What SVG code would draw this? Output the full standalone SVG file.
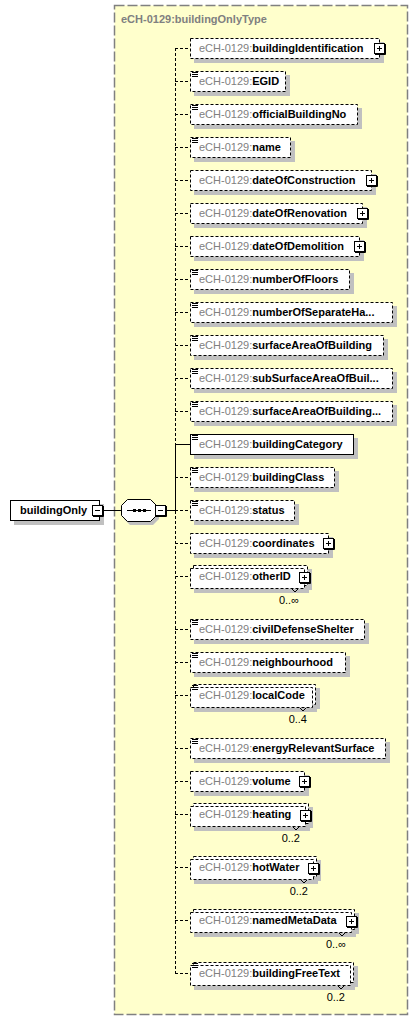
<svg xmlns="http://www.w3.org/2000/svg" width="420" height="1021" viewBox="0 0 420 1021">
<style>
text{font-family:"Liberation Sans",Arial,sans-serif;font-size:11px}
.pre{fill:#808080}
.nm{fill:#000;font-weight:bold}
.title{fill:#808080;font-weight:bold}
.sh{fill:#c0c0c0}
.opt{fill:#fff;stroke:#000;stroke-width:1;stroke-dasharray:3,2}
.req{fill:#fff;stroke:#000;stroke-width:1}
.dl{fill:none;stroke:#000;stroke-width:1;stroke-dasharray:3,2}
.sl{fill:none;stroke:#000;stroke-width:1}
.tk{fill:none;stroke:#000;stroke-width:1}
</style>
<defs>
<symbol id="plus" width="12" height="12" viewBox="0 0 12 12" overflow="visible">
<rect x="0.5" y="0.5" width="10" height="10" fill="#fff" stroke="#000"/>
<path d="M11.5 1V11.5H1" fill="none" stroke="#000"/>
<path d="M3 5.5H8M5.5 3V8" stroke="#000"/>
</symbol>
<symbol id="minus" width="12" height="12" viewBox="0 0 12 12" overflow="visible">
<rect x="0.5" y="0.5" width="10" height="10" fill="#fff" stroke="#000"/>
<path d="M11.5 1V11.5H1" fill="none" stroke="#000"/>
<path d="M3 5.5H8" stroke="#000"/>
</symbol>
<symbol id="doc" width="10" height="8" viewBox="0 0 10 8" overflow="visible">
<path d="M2 1.5h6M2 3.5h6M2 5.5h6" stroke="#000"/>
</symbol>
</defs>

<g id="container">
<rect x="114.5" y="5.5" width="293" height="1009" fill="#ffffcc" stroke="#808080" stroke-width="1.5" stroke-dasharray="10,3"/>
<text class="title" x="121" y="23">eCH-0129:buildingOnlyType</text>
</g>

<g id="connectors">
<path class="sl" d="M103 510.5H121.5M166 510.5H175.5M175.5 444V510.5M175 444.5H190"/>
<path class="dl" d="M175.5 48V444M175.5 511V973.5"/>
<path class="dl" d="M175 48.5H190M175 81.5H190M175 114.5H190M175 147.5H190M175 180.5H190M175 213.5H190M175 246.5H190M175 279.5H190M175 312.5H190M175 345.5H190M175 378.5H190M175 411.5H190M175 477.5H190M175 510.5H190M175 543.5H190M175 576.5H190M175 629.5H190M175 662.5H190M175 695.5H190M175 748.5H190M175 781.5H190M175 814.5H190M175 867.5H190M175 920.5H190M175 973.5H190"/>
</g>

<g id="buildingOnly">
<rect class="sh" x="14" y="504" width="90" height="21"/>
<rect class="req" x="10.5" y="500.5" width="89" height="20"/>
<text x="20" y="514"><tspan class="nm">buildingOnly</tspan></text>
<use href="#minus" x="92" y="505"/>
</g>

<g id="sequence">
<polygon class="sh" points="130,503 153,503 159,509 159,519 153,525 130,525 124,519 124,509"/>
<polygon class="req" points="127.5,499.5 150.5,499.5 156.5,505.5 156.5,515.5 150.5,521.5 127.5,521.5 121.5,515.5 121.5,505.5"/>
<path d="M127 510.5H151" stroke="#000"/>
<rect x="133" y="509" width="3" height="3"/>
<rect x="138" y="509" width="3" height="3"/>
<rect x="143" y="509" width="3" height="3"/>
<use href="#minus" x="155" y="505"/>
</g>

<g id="buildingIdentification">
<rect class="sh" x="194" y="42" width="190" height="21"/>
<rect class="opt" x="190.5" y="38.5" width="189" height="20"/>
<text x="199" y="52"><tspan class="pre">eCH-0129:</tspan><tspan class="nm">buildingIdentification</tspan></text>
<use href="#plus" x="374" y="43"/>
</g>

<g id="EGID">
<rect class="sh" x="194" y="75" width="96" height="21"/>
<rect class="opt" x="190.5" y="71.5" width="95" height="20"/>
<use href="#doc" x="190" y="71"/>
<text x="199" y="85"><tspan class="pre">eCH-0129:</tspan><tspan class="nm">EGID</tspan></text>
</g>

<g id="officialBuildingNo">
<rect class="sh" x="194" y="108" width="168" height="21"/>
<rect class="opt" x="190.5" y="104.5" width="167" height="20"/>
<use href="#doc" x="190" y="104"/>
<text x="199" y="118"><tspan class="pre">eCH-0129:</tspan><tspan class="nm">officialBuildingNo</tspan></text>
</g>

<g id="name">
<rect class="sh" x="194" y="141" width="101" height="21"/>
<rect class="opt" x="190.5" y="137.5" width="100" height="20"/>
<use href="#doc" x="190" y="137"/>
<text x="199" y="151"><tspan class="pre">eCH-0129:</tspan><tspan class="nm">name</tspan></text>
</g>

<g id="dateOfConstruction">
<rect class="sh" x="194" y="174" width="182" height="21"/>
<rect class="opt" x="190.5" y="170.5" width="181" height="20"/>
<text x="199" y="184"><tspan class="pre">eCH-0129:</tspan><tspan class="nm">dateOfConstruction</tspan></text>
<use href="#plus" x="366" y="175"/>
</g>

<g id="dateOfRenovation">
<rect class="sh" x="194" y="207" width="173" height="21"/>
<rect class="opt" x="190.5" y="203.5" width="172" height="20"/>
<text x="199" y="217"><tspan class="pre">eCH-0129:</tspan><tspan class="nm">dateOfRenovation</tspan></text>
<use href="#plus" x="357" y="208"/>
</g>

<g id="dateOfDemolition">
<rect class="sh" x="194" y="240" width="170" height="21"/>
<rect class="opt" x="190.5" y="236.5" width="169" height="20"/>
<text x="199" y="250"><tspan class="pre">eCH-0129:</tspan><tspan class="nm">dateOfDemolition</tspan></text>
<use href="#plus" x="354" y="241"/>
</g>

<g id="numberOfFloors">
<rect class="sh" x="194" y="273" width="160" height="21"/>
<rect class="opt" x="190.5" y="269.5" width="159" height="20"/>
<use href="#doc" x="190" y="269"/>
<text x="199" y="283"><tspan class="pre">eCH-0129:</tspan><tspan class="nm">numberOfFloors</tspan></text>
</g>

<g id="numberOfSeparateHabitableRooms">
<rect class="sh" x="194" y="306" width="203" height="21"/>
<rect class="opt" x="190.5" y="302.5" width="202" height="20"/>
<use href="#doc" x="190" y="302"/>
<text x="199" y="316"><tspan class="pre">eCH-0129:</tspan><tspan class="nm">numberOfSeparateHa...</tspan></text>
</g>

<g id="surfaceAreaOfBuilding">
<rect class="sh" x="194" y="339" width="194" height="21"/>
<rect class="opt" x="190.5" y="335.5" width="193" height="20"/>
<use href="#doc" x="190" y="335"/>
<text x="199" y="349"><tspan class="pre">eCH-0129:</tspan><tspan class="nm">surfaceAreaOfBuilding</tspan></text>
</g>

<g id="subSurfaceAreaOfBuilding">
<rect class="sh" x="194" y="372" width="203" height="21"/>
<rect class="opt" x="190.5" y="368.5" width="202" height="20"/>
<use href="#doc" x="190" y="368"/>
<text x="199" y="382"><tspan class="pre">eCH-0129:</tspan><tspan class="nm">subSurfaceAreaOfBuil...</tspan></text>
</g>

<g id="surfaceAreaOfBuildingSignaturePlan">
<rect class="sh" x="194" y="405" width="203" height="21"/>
<rect class="opt" x="190.5" y="401.5" width="202" height="20"/>
<use href="#doc" x="190" y="401"/>
<text x="199" y="415"><tspan class="pre">eCH-0129:</tspan><tspan class="nm">surfaceAreaOfBuilding...</tspan></text>
</g>

<g id="buildingCategory">
<rect class="sh" x="194" y="438" width="164" height="21"/>
<rect class="req" x="190.5" y="434.5" width="163" height="20"/>
<use href="#doc" x="190" y="434"/>
<text x="199" y="448"><tspan class="pre">eCH-0129:</tspan><tspan class="nm">buildingCategory</tspan></text>
</g>

<g id="buildingClass">
<rect class="sh" x="194" y="471" width="145" height="21"/>
<rect class="opt" x="190.5" y="467.5" width="144" height="20"/>
<use href="#doc" x="190" y="467"/>
<text x="199" y="481"><tspan class="pre">eCH-0129:</tspan><tspan class="nm">buildingClass</tspan></text>
</g>

<g id="status">
<rect class="sh" x="194" y="504" width="105" height="21"/>
<rect class="opt" x="190.5" y="500.5" width="104" height="20"/>
<use href="#doc" x="190" y="500"/>
<text x="199" y="514"><tspan class="pre">eCH-0129:</tspan><tspan class="nm">status</tspan></text>
</g>

<g id="coordinates">
<rect class="sh" x="194" y="537" width="139" height="21"/>
<rect class="opt" x="190.5" y="533.5" width="138" height="20"/>
<text x="199" y="547"><tspan class="pre">eCH-0129:</tspan><tspan class="nm">coordinates</tspan></text>
<use href="#plus" x="323" y="538"/>
</g>

<g id="otherID">
<rect class="sh" x="197" y="569" width="115" height="21"/>
<rect class="sh" x="194" y="572" width="115" height="21"/>
<rect class="opt" x="193.5" y="565.5" width="114" height="20"/>
<rect class="opt" x="190.5" y="568.5" width="114" height="20"/>
<text x="199" y="580"><tspan class="pre">eCH-0129:</tspan><tspan class="nm">otherID</tspan></text>
<use href="#plus" x="299" y="572"/>
<polyline class="tk" points="292,589 295,592 298,589"/>
<text x="299" y="604" text-anchor="end">0..∞</text>
</g>

<g id="civilDefenseShelter">
<rect class="sh" x="194" y="623" width="175" height="21"/>
<rect class="opt" x="190.5" y="619.5" width="174" height="20"/>
<use href="#doc" x="190" y="619"/>
<text x="199" y="633"><tspan class="pre">eCH-0129:</tspan><tspan class="nm">civilDefenseShelter</tspan></text>
</g>

<g id="neighbourhood">
<rect class="sh" x="194" y="656" width="156" height="21"/>
<rect class="opt" x="190.5" y="652.5" width="155" height="20"/>
<use href="#doc" x="190" y="652"/>
<text x="199" y="666"><tspan class="pre">eCH-0129:</tspan><tspan class="nm">neighbourhood</tspan></text>
</g>

<g id="localCode">
<rect class="sh" x="197" y="688" width="123" height="21"/>
<rect class="sh" x="194" y="691" width="123" height="21"/>
<rect class="opt" x="193.5" y="684.5" width="122" height="20"/>
<rect class="opt" x="190.5" y="687.5" width="122" height="20"/>
<use href="#doc" x="190" y="684"/>
<text x="199" y="699"><tspan class="pre">eCH-0129:</tspan><tspan class="nm">localCode</tspan></text>
<polyline class="tk" points="300,708 303,711 306,708"/>
<text x="307" y="723" text-anchor="end">0..4</text>
</g>

<g id="energyRelevantSurface">
<rect class="sh" x="194" y="742" width="196" height="21"/>
<rect class="opt" x="190.5" y="738.5" width="195" height="20"/>
<use href="#doc" x="190" y="738"/>
<text x="199" y="752"><tspan class="pre">eCH-0129:</tspan><tspan class="nm">energyRelevantSurface</tspan></text>
</g>

<g id="volume">
<rect class="sh" x="194" y="775" width="115" height="21"/>
<rect class="opt" x="190.5" y="771.5" width="114" height="20"/>
<text x="199" y="785"><tspan class="pre">eCH-0129:</tspan><tspan class="nm">volume</tspan></text>
<use href="#plus" x="299" y="776"/>
</g>

<g id="heating">
<rect class="sh" x="197" y="807" width="116" height="21"/>
<rect class="sh" x="194" y="810" width="116" height="21"/>
<rect class="opt" x="193.5" y="803.5" width="115" height="20"/>
<rect class="opt" x="190.5" y="806.5" width="115" height="20"/>
<text x="199" y="818"><tspan class="pre">eCH-0129:</tspan><tspan class="nm">heating</tspan></text>
<use href="#plus" x="300" y="810"/>
<polyline class="tk" points="293,827 296,830 299,827"/>
<text x="300" y="842" text-anchor="end">0..2</text>
</g>

<g id="hotWater">
<rect class="sh" x="197" y="860" width="124" height="21"/>
<rect class="sh" x="194" y="863" width="124" height="21"/>
<rect class="opt" x="193.5" y="856.5" width="123" height="20"/>
<rect class="opt" x="190.5" y="859.5" width="123" height="20"/>
<text x="199" y="871"><tspan class="pre">eCH-0129:</tspan><tspan class="nm">hotWater</tspan></text>
<use href="#plus" x="308" y="863"/>
<polyline class="tk" points="301,880 304,883 307,880"/>
<text x="308" y="895" text-anchor="end">0..2</text>
</g>

<g id="namedMetaData">
<rect class="sh" x="197" y="913" width="162" height="21"/>
<rect class="sh" x="194" y="916" width="162" height="21"/>
<rect class="opt" x="193.5" y="909.5" width="161" height="20"/>
<rect class="opt" x="190.5" y="912.5" width="161" height="20"/>
<text x="199" y="924"><tspan class="pre">eCH-0129:</tspan><tspan class="nm">namedMetaData</tspan></text>
<use href="#plus" x="346" y="916"/>
<polyline class="tk" points="339,933 342,936 345,933"/>
<text x="346" y="948" text-anchor="end">0..∞</text>
</g>

<g id="buildingFreeText">
<rect class="sh" x="197" y="966" width="161" height="21"/>
<rect class="sh" x="194" y="969" width="161" height="21"/>
<rect class="opt" x="193.5" y="962.5" width="160" height="20"/>
<rect class="opt" x="190.5" y="965.5" width="160" height="20"/>
<use href="#doc" x="190" y="962"/>
<text x="199" y="977"><tspan class="pre">eCH-0129:</tspan><tspan class="nm">buildingFreeText</tspan></text>
<polyline class="tk" points="338,986 341,989 344,986"/>
<text x="345" y="1001" text-anchor="end">0..2</text>
</g>
</svg>
